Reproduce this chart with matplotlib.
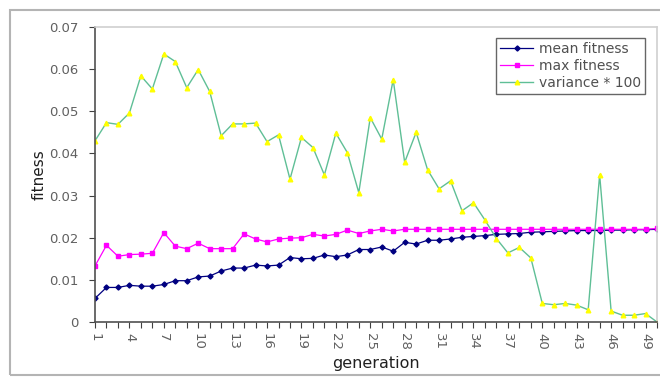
import numpy as np
import matplotlib
matplotlib.use("Agg")
import matplotlib.pyplot as plt
from matplotlib.patches import Rectangle

plt.rcParams['font.family'] = ['DejaVu Sans']

# generation 1..50
generation = list(range(1, 51))

mean_fitness = [0.0056, 0.0082, 0.0082, 0.0087, 0.0085, 0.0085, 0.0089, 0.0098, 0.0098, 0.0107,
                0.0109, 0.0121, 0.0128, 0.0128, 0.0135, 0.0133, 0.0135, 0.0153, 0.0150, 0.0151,
                0.0159, 0.0155, 0.0159, 0.0172, 0.0172, 0.0178, 0.0168, 0.0189, 0.0185, 0.0194,
                0.0194, 0.0197, 0.0201, 0.0203, 0.0205, 0.0208, 0.0209, 0.0210, 0.0213, 0.0214,
                0.0215, 0.0216, 0.0217, 0.0217, 0.0217, 0.0218, 0.0218, 0.0219, 0.0219, 0.0220]

max_fitness = [0.0133, 0.0182, 0.0156, 0.0160, 0.0161, 0.0163, 0.0212, 0.0180, 0.0174, 0.0187,
               0.0174, 0.0174, 0.0174, 0.0209, 0.0197, 0.0190, 0.0197, 0.0199, 0.0200, 0.0208,
               0.0204, 0.0208, 0.0218, 0.0210, 0.0216, 0.0220, 0.0216, 0.0220, 0.0220, 0.0220,
               0.0220, 0.0220, 0.0220, 0.0220, 0.0220, 0.0220, 0.0220, 0.0220, 0.0220, 0.0220,
               0.0220, 0.0220, 0.0220, 0.0220, 0.0220, 0.0220, 0.0220, 0.0220, 0.0220, 0.0222]

variance_x100 = [0.0430, 0.0473, 0.0469, 0.0496, 0.0584, 0.0553, 0.0636, 0.0618, 0.0556, 0.0599,
                 0.0547, 0.0442, 0.0470, 0.0470, 0.0472, 0.0428, 0.0444, 0.0339, 0.0438, 0.0414,
                 0.0349, 0.0448, 0.0402, 0.0307, 0.0485, 0.0434, 0.0575, 0.0379, 0.0450, 0.0361,
                 0.0316, 0.0335, 0.0264, 0.0283, 0.0242, 0.0198, 0.0164, 0.0177, 0.0152, 0.0044,
                 0.0041, 0.0044, 0.0040, 0.0029, 0.0349, 0.0026, 0.0016, 0.0016, 0.0020, 0.0000]

x_ticklabels = [str(g) for g in generation[::3]]

fig = plt.figure(figsize=(6.6, 3.77), dpi=100)
ax = fig.add_axes([95 / 660, 1 - 322 / 377, 562 / 660, 295 / 377])

# outer chart border
fig.patches.append(Rectangle((10 / 660, 2 / 377), 660 / 660, 365 / 377, transform=fig.transFigure,
                             fill=False, edgecolor='#b4b4b4', linewidth=1.5))

ax.plot(generation, mean_fitness, color='#000080', linewidth=0.9, marker='D', markersize=2.6,
        label='mean fitness')
ax.plot(generation, max_fitness, color='#ff00ff', linewidth=0.9, marker='s', markersize=3.3,
        label='max fitness')
ax.plot(generation, variance_x100, color='#5fbf96', linewidth=1.0, marker='^', markersize=3.3,
        markerfacecolor='#ffff00', markeredgecolor='#ffff00', label='variance * 100')

ax.set_xlim(1, 50)
ax.set_ylim(0, 0.07)
ax.set_yticks(np.arange(0, 0.071, 0.01))
ax.set_yticklabels(['0', '0.01', '0.02', '0.03', '0.04', '0.05', '0.06', '0.07'])
ax.set_xticks(generation, minor=True)
ax.set_xticks(generation[::3])
ax.set_xticklabels(x_ticklabels, rotation=-90)

ax.tick_params(axis='both', which='both', direction='out', colors='#404040', labelcolor='#606060',
               labelsize=9.5, width=0.8)
ax.tick_params(axis='x', which='both', length=4, pad=4)
ax.tick_params(axis='y', length=4, pad=8)

for s in ['left', 'bottom']:
    ax.spines[s].set_color('#505050')
    ax.spines[s].set_linewidth(1.2)
for s in ['top', 'right']:
    ax.spines[s].set_color('#d0d0d0')
    ax.spines[s].set_linewidth(1.2)

ax.set_xlabel('generation', fontsize=11.5, color='#202020', labelpad=4)
ax.set_ylabel('fitness', fontsize=11, color='#202020', labelpad=2)

leg = ax.legend(loc='upper right', bbox_to_anchor=(0.979, 0.963), fontsize=10, frameon=True,
                fancybox=False, borderpad=0.3, labelspacing=0.2, handlelength=2.4,
                handletextpad=0.4, borderaxespad=0)
leg.get_frame().set_edgecolor('#404040')
leg.get_frame().set_linewidth(1.0)
for t in leg.get_texts():
    t.set_color('#505050')

fig.savefig('out.png', dpi=100)
